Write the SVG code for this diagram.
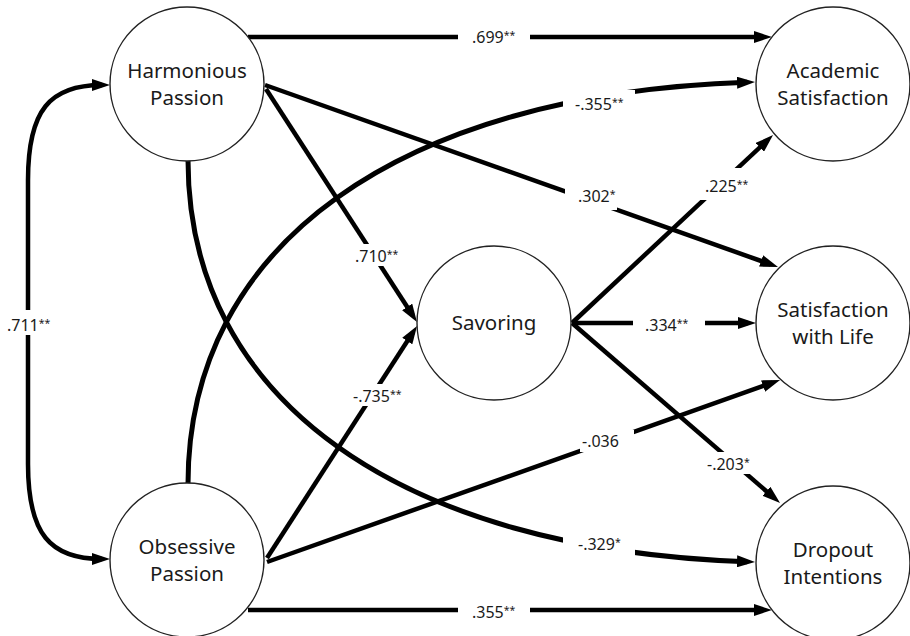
<svg xmlns="http://www.w3.org/2000/svg" width="910" height="636" viewBox="0 0 910 636">
<style>
.node circle{fill:#fff;stroke:#222;stroke-width:1.4}
.node text{font-family:"Noto Sans","DejaVu Sans",sans-serif;font-size:20.5px;fill:#1a1a1a;text-anchor:middle}
.conn path{fill:none;stroke:#000;stroke-width:4.5}
.conn path.curve{stroke-width:5}
.lbl text{font-family:"Noto Sans","DejaVu Sans",sans-serif;font-size:16px;fill:#1a1a1a}
.lbl rect{fill:#fff}
.ast{font-size:10.5px}
</style>
<defs>
<marker id="arr" markerUnits="userSpaceOnUse" markerWidth="18" markerHeight="12" refX="10" refY="6" orient="auto-start-reverse">
<path d="M0,0 L18,6 L0,12 z" fill="#000"/>
</marker>
</defs>
<rect width="910" height="636" fill="#fff"/>
<g class="conn" id="connectors">
<path d="M248,37 L764,37" marker-end="url(#arr)"/>
<path d="M265,85 L770.5,264.3" marker-end="url(#arr)"/>
<path d="M266,89 L412.6,315.3" marker-end="url(#arr)"/>
<path d="M267,558 L412.7,332.7" marker-end="url(#arr)"/>
<path d="M267,562 L772.5,382.7" marker-end="url(#arr)"/>
<path d="M572,323 L767.2,140.5" marker-end="url(#arr)"/>
<path d="M572,323 L748,323" marker-end="url(#arr)"/>
<path d="M572,323 L774,497.8" marker-end="url(#arr)"/>
<path class="curve" d="M188,160 C188,400 400,550 747,561.7" marker-end="url(#arr)"/>
<path class="curve" d="M188,484 C188,244 400,94 747,82.3" marker-end="url(#arr)"/>
<path d="M248,610 L764,610" marker-end="url(#arr)"/>
<path d="M102,85 C50,85 28,110 28,180 L28,464 C28,534 50,559 102,559" marker-start="url(#arr)" marker-end="url(#arr)"/>
</g>
<g class="lbl" id="labels">
<rect x="458" y="27" width="72" height="22"/>
<text x="472" y="43">.699<tspan class="ast" dy="-4">**</tspan></text>
<rect x="458" y="600" width="72" height="22"/>
<text x="472" y="618">.355<tspan class="ast" dy="-4">**</tspan></text>
<rect x="5" y="310" width="50" height="25"/>
<text x="7" y="331">.711<tspan class="ast" dy="-4">**</tspan></text>
<rect x="633" y="313" width="72" height="22"/>
<text x="645" y="331">.334<tspan class="ast" dy="-4">**</tspan></text>
<rect x="352" y="244" width="52" height="22"/>
<text x="355" y="262">.710<tspan class="ast" dy="-4">**</tspan></text>
<rect x="350" y="384" width="56" height="22"/>
<text x="353" y="402">-.735<tspan class="ast" dy="-4">**</tspan></text>
<rect x="565" y="184" width="52" height="26"/>
<text x="578" y="202">.302<tspan class="ast" dy="-4">*</tspan></text>
<rect x="563" y="90" width="72" height="24"/>
<text x="575" y="110">-.355<tspan class="ast" dy="-4">**</tspan></text>
<rect x="695" y="168" width="58" height="32"/>
<text x="705" y="192">.225<tspan class="ast" dy="-4">**</tspan></text>
<rect x="580" y="430" width="54" height="22"/>
<text x="582" y="447">-.036</text>
<rect x="702" y="452" width="50" height="22"/>
<text x="707" y="470">-.203<tspan class="ast" dy="-4">*</tspan></text>
<rect x="563" y="534" width="72" height="24"/>
<text x="578" y="550">-.329<tspan class="ast" dy="-4">*</tspan></text>
</g>
<g class="node" id="harmonious">
<circle cx="187" cy="84" r="77"/>
<text x="187" y="78">Harmonious</text>
<text x="187" y="105">Passion</text>
</g>
<g class="node" id="obsessive">
<circle cx="187" cy="560" r="77"/>
<text x="187" y="554">Obsessive</text>
<text x="187" y="581">Passion</text>
</g>
<g class="node" id="savoring">
<circle cx="494" cy="323" r="77"/>
<text x="494" y="330">Savoring</text>
</g>
<g class="node" id="academic">
<circle cx="833" cy="84" r="77"/>
<text x="833" y="78">Academic</text>
<text x="833" y="105">Satisfaction</text>
</g>
<g class="node" id="satlife">
<circle cx="833" cy="323" r="77"/>
<text x="833" y="317">Satisfaction</text>
<text x="833" y="344">with Life</text>
</g>
<g class="node" id="dropout">
<circle cx="833" cy="563" r="77"/>
<text x="833" y="557">Dropout</text>
<text x="833" y="584">Intentions</text>
</g>
</svg>
